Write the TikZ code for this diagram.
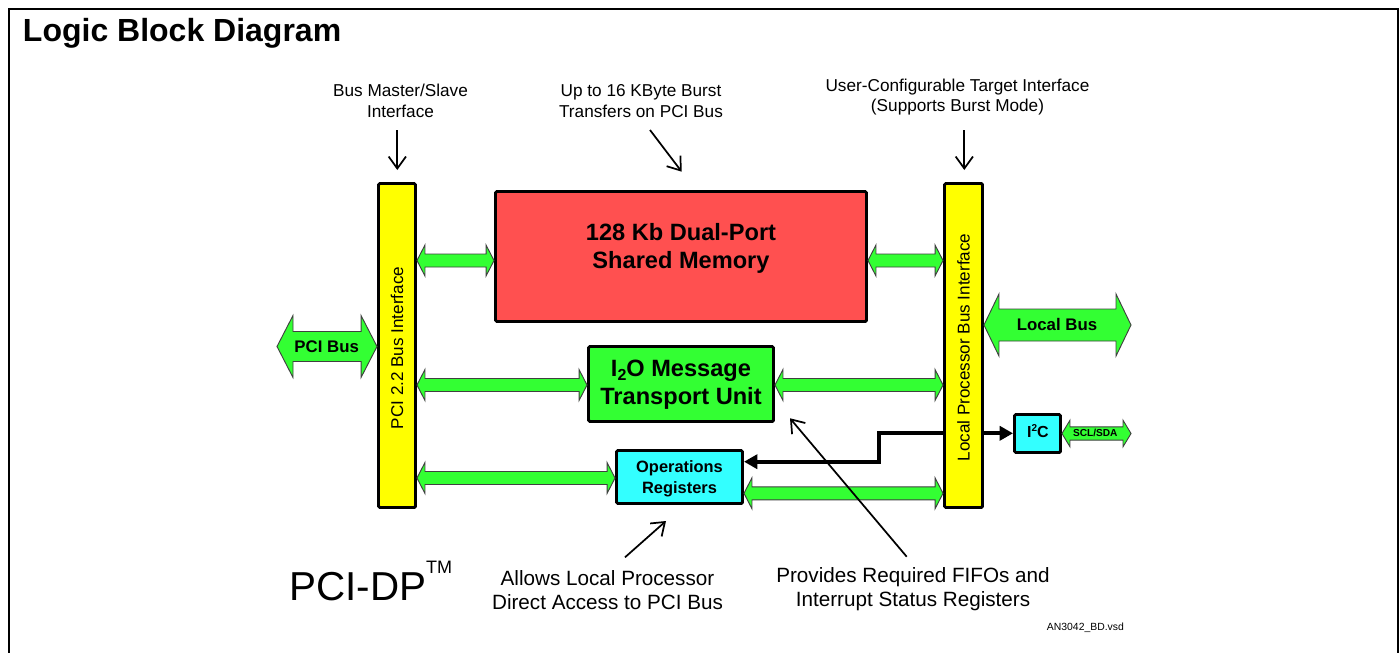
\documentclass[tikz,border=0pt]{standalone}
\usepackage{fontspec}
\setmainfont{Liberation Sans}
\usetikzlibrary{calc,arrows.meta}
\newcommand\px[1]{#1*0.75pt}
\newcommand\fs[2]{\fontsize{#1pt}{#2pt}\selectfont}
\definecolor{busgreen}{RGB}{51,255,51}
\definecolor{memred}{RGB}{255,80,80}
\definecolor{baryellow}{RGB}{255,255,0}
\definecolor{regcyan}{RGB}{51,255,255}
% double-headed block arrow between two points on the same level
% #2 left point, #3 right point, #4 body half-height, #5 head half-height, #6 head length (px)
\newcommand\dblarrow[6][]{%
  \draw[garrow,#1] let \p1=#2, \p2=#3 in
    (\x1,\y1) -- (\x1+\px{#6},\y1+\px{#5}) -- (\x1+\px{#6},\y1+\px{#4})
    -- (\x2-\px{#6},\y1+\px{#4}) -- (\x2-\px{#6},\y1+\px{#5}) -- (\x2,\y1)
    -- (\x2-\px{#6},\y1-\px{#5}) -- (\x2-\px{#6},\y1-\px{#4})
    -- (\x1+\px{#6},\y1-\px{#4}) -- (\x1+\px{#6},\y1-\px{#5}) -- cycle;}
\begin{document}
\begin{tikzpicture}[x=0.75pt,y=-0.75pt,
  box/.style={draw=black,line width=2.2pt,rounded corners=1pt,inner sep=0pt},
  txt/.style={inner sep=0pt,align=center},
  garrow/.style={draw=black!75,line width=0.7pt,fill=busgreen,line join=miter},
  note/.style={line width=1.3pt,-{Straight Barb[length=9pt,width=13pt]}},
  ctrl/.style={line width=2.8pt,-{Triangle[length=10pt,width=10.5pt]}},
  frame/.style={line width=1.5pt}]
\useasboundingbox (0,0) rectangle (1399,653);
\fill[white] (0,0) rectangle (1399,653);
% frame
\draw[frame] (9,660) -- (9,8.5) -- (1398,8.5) -- (1398,660);
\node[txt,anchor=base west,font=\bfseries\fs{24}{28}] (title) at (22.7,41.7) {Logic Block Diagram};

% main blocks
\node[box,fill=baryellow,minimum width=\px{37},minimum height=\px{324}] (pcibar) at (397,345.5) {};
\node[box,fill=baryellow,minimum width=\px{38},minimum height=\px{324}] (lpbar) at (963.5,345.5) {};
\node[box,fill=memred,minimum width=\px{371},minimum height=\px{130}] (mem) at (681,256.5) {};
\node[box,fill=busgreen,minimum width=\px{185},minimum height=\px{75}] (i2o) at (681,384) {};
\node[box,fill=regcyan,minimum width=\px{126},minimum height=\px{53}] (ops) at (679.5,477) {};
\node[box,fill=regcyan,minimum width=\px{46},minimum height=\px{38}] (i2c) at (1037.5,433.5) {};

\node[txt,rotate=90,font=\fs{12.8}{15}] (pcilbl) at (397,348) {PCI 2.2 Bus Interface};
\node[txt,rotate=90,font=\fs{12.8}{15}] (lplbl) at (963.5,347.5) {Local Processor Bus Interface};
\node[txt,font=\bfseries\fs{17.7}{21}] (memtxt) at (681,248.5) {128 Kb Dual-Port\\Shared Memory};
\node[txt,font=\bfseries\fs{17.7}{21.2}] (i2otxt) at (681,385) {I\raisebox{-3.2pt}{\fs{12}{12}2}O Message\\Transport Unit};
\node[txt,font=\bfseries\fs{12.3}{15.75}] (opstxt) at (679.5,478.5) {Operations\\Registers};
\node[txt,anchor=base,font=\bfseries\fs{12}{14}] (i2ctxt) at (1038,437.3) {I\raisebox{4.5pt}{\fs{7.5}{8}2}C};

% level coordinates
\coordinate (yA) at (0,260.5);
\coordinate (yB) at (0,385);
\coordinate (yC) at (0,478);
\coordinate (yD) at (0,493.3);
\coordinate (pcileft) at (277,346.5);
\coordinate (lbright) at (1131,325);
\coordinate (sclright) at (1131,433.5);

% green bus arrows
\dblarrow{(pcibar.east |- yA)}{(mem.west |- yA)}{6.5}{15.5}{8}
\dblarrow{(pcibar.east |- yB)}{(i2o.west |- yB)}{6.5}{15.5}{8}
\dblarrow{(pcibar.east |- yC)}{(ops.west |- yC)}{6.5}{15.5}{8}
\dblarrow{(mem.east |- yA)}{(lpbar.west |- yA)}{6.5}{15.5}{8}
\dblarrow{(i2o.east |- yB)}{(lpbar.west |- yB)}{6.5}{15.5}{8}
\dblarrow{(ops.east |- yD)}{(lpbar.west |- yD)}{6.5}{15.5}{8}
\dblarrow{(pcileft)}{(pcibar.west |- pcileft)}{15}{31}{16}
\dblarrow{(lpbar.east |- lbright)}{(lbright)}{16}{31}{15}
\dblarrow{(i2c.east |- sclright)}{(sclright)}{6.7}{13.3}{8}
\node[txt,anchor=base,font=\bfseries\fs{12.6}{15}] (pcibus) at (326.7,352.3) {PCI Bus};
\node[txt,anchor=base,font=\bfseries\fs{12.6}{15}] (localbus) at (1057,330) {Local Bus};
\node[txt,anchor=base,font=\bfseries\fs{7.6}{9}] (scl) at (1095.3,436.7) {SCL/SDA};

% control paths
\coordinate (cy1) at (0,433.3);
\coordinate (jog) at (879,433.3);
\coordinate (cy2) at (879,461.7);
\draw[ctrl] (lpbar.west |- cy1) -- (jog) -- (cy2) -- (ops.east |- cy2);
\draw[ctrl] (lpbar.east |- cy1) -- (i2c.west |- cy1);

% annotations
\node[txt,font=\fs{12.9}{15.6}] (ann1) at (400.5,100.9) {Bus Master/Slave\\Interface};
\node[txt,font=\fs{12.9}{15.6}] (ann2) at (641,100.9) {Up to 16 KByte Burst\\Transfers on PCI Bus};
\node[txt,font=\fs{12.9}{15}] (ann3) at (957.5,97.2) {User-Configurable Target Interface\\(Supports Burst Mode)};
\node[txt,font=\fs{15.5}{18.5}] (ann4) at (607.5,590) {Allows Local Processor\\Direct Access to PCI Bus};
\node[txt,font=\fs{15.5}{18.3}] (ann5) at (913,589.2) {Provides Required FIFOs and\\Interrupt Status Registers};
\node[txt,anchor=base west,font=\fs{30.3}{34}] (pcidp) at (289,600.7) {PCI-DP\raisebox{20.5pt}{\fs{13.5}{14}TM}};
\node[txt,anchor=base west,font=\fs{7.8}{9}] (vsd) at (1046.7,630) {AN3042\_BD.vsd};

\coordinate (n1a) at (397.3,130); \coordinate (n1b) at (397.3,170);
\coordinate (n2a) at (650,130);   \coordinate (n2b) at (681.7,171.7);
\coordinate (n3a) at (964.3,130); \coordinate (n3b) at (964.3,170);
\coordinate (n4a) at (625,557.3); \coordinate (n4b) at (666,521);
\coordinate (n5a) at (906.7,556.7); \coordinate (n5b) at (790,418.3);
\draw[note] (n1a) -- (n1b);
\draw[note] (n2a) -- (n2b);
\draw[note] (n3a) -- (n3b);
\draw[note] (n4a) -- (n4b);
\draw[note] (n5a) -- (n5b);
\end{tikzpicture}
\end{document}
